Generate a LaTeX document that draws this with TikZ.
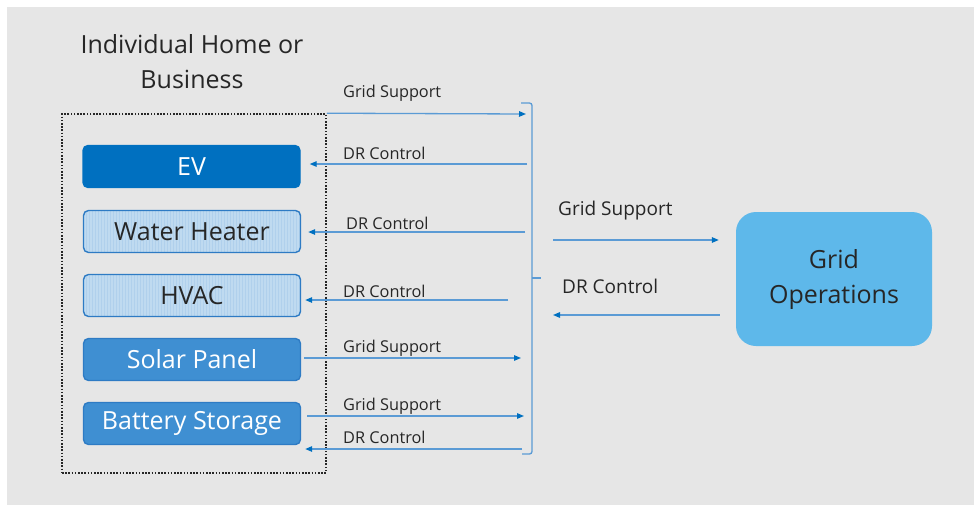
\documentclass[tikz,border=0pt]{standalone}
\usepackage{fontspec}
\setmainfont{Open Sans}
\usetikzlibrary{arrows.meta}
\definecolor{bgc}{HTML}{E6E6E6}
\definecolor{evc}{HTML}{0070C0}
\definecolor{lightc}{HTML}{BFDAF0}
\definecolor{stripec}{HTML}{B0D0EC}
\definecolor{midc}{HTML}{3F8FD2}
\definecolor{edgec}{HTML}{2E7BC4}
\definecolor{gridc}{HTML}{5EB8EA}
\definecolor{linec}{HTML}{5B9BD5}
\definecolor{tipc}{HTML}{0070C0}
\definecolor{txtc}{HTML}{262626}
\tikzset{
  devbox/.style={draw=edgec, line width=1.4pt, rounded corners=5pt, minimum width=217pt, minimum height=42pt, inner sep=0pt, font=\fontsize{25}{28}\selectfont},
  striped/.style={path picture={\foreach \i in {0,3,...,220}{\draw[stripec, line width=0.6pt] ([xshift=\i pt]path picture bounding box.south west) -- ([xshift=\i pt]path picture bounding box.north west);}}},
  arr/.style={draw=linec, line width=1.3pt, -{Triangle[length=7pt,width=5.5pt,color=tipc]}},
  lbl/.style={anchor=west, inner sep=0pt, text=txtc, font=\fontsize{16.3}{18}\selectfont},
  biglbl/.style={anchor=west, inner sep=0pt, text=txtc, font=\fontsize{19}{22}\selectfont},
  bracestyle/.style={draw=linec, line width=1.3pt, rounded corners=2.5pt}
}
\begin{document}
\begin{tikzpicture}[x=1pt,y=-1pt]
\useasboundingbox (0,0) rectangle (974,504);
\fill[bgc] (7,7) rectangle (990,520);

% title
\node[align=center, text=txtc, font=\fontsize{25}{35}\selectfont] (title) at (192,62) {Individual Home or\\Business};

% dotted home box
\node[draw=black!85, line width=1.6pt, dash pattern=on 1.6pt off 1.6pt, minimum width=264pt, minimum height=359pt, inner sep=0pt] (home) at (194,293.5) {};

% devices
\node[devbox, fill=evc, draw=evc, text=white] (ev) at (191.5,166.5) {EV};
\node[devbox, fill=lightc, striped, text=txtc] (wh) at (192,231.5) {Water Heater};
\node[devbox, fill=lightc, striped, text=txtc] (hvac) at (192,295.5) {HVAC};
\node[devbox, fill=midc, text=white] (solar) at (192,359.5) {Solar Panel};
\node[devbox, fill=midc, text=white] (bat) at (192,423.5) {Battery Storage};

% grid operations
\node[fill=gridc, rounded corners=20pt, minimum width=196pt, minimum height=134pt, align=center, text=txtc, font=\fontsize{25}{35}\selectfont] (go) at (834,279) {Grid\\Operations};

% brace
\coordinate (btop) at (521,103);
\coordinate (bbot) at (522,454);
\coordinate (bmid) at (532,278);
\coordinate (btip) at (541,278);
\draw[bracestyle] (btop) -- (532,103) -- (532,454) -- (bbot);
\draw[bracestyle, rounded corners=0pt] (bmid) -- (btip);

% connector free ends
\coordinate (c1) at (526,114);
\coordinate (c2) at (527,164);
\coordinate (c3) at (525,232);
\coordinate (c4) at (508,300);
\coordinate (c5) at (521,358);
\coordinate (c6) at (524,416);
\coordinate (c7) at (522,449);
\coordinate (c8) at (553,240);
\coordinate (c9) at (553,315);

\draw[arr] (home.north east) -- (c1);
\draw[arr, shorten >=9pt] (c2) -- (c2 -| ev.east);
\draw[arr, shorten >=7pt] (c3) -- (c3 -| wh.east);
\draw[arr, shorten >=4pt] (c4) -- (c4 -| hvac.east);
\draw[arr, shorten <=3pt] (c5 -| solar.east) -- (c5);
\draw[arr, shorten <=6pt] (c6 -| bat.east) -- (c6);
\draw[arr, shorten >=4pt] (c7) -- (c7 -| bat.east);
\draw[arr, shorten >=17pt] (c8) -- (c8 -| go.west);
\draw[arr, shorten <=16pt] (c9 -| go.west) -- (c9);

% labels
\node[lbl] (l1) at (343,93) {Grid Support};
\node[lbl] (l2) at (343,153) {DR Control};
\node[lbl] (l3) at (346,223) {DR Control};
\node[lbl] (l4) at (343,291) {DR Control};
\node[lbl] (l5) at (343,348) {Grid Support};
\node[lbl] (l6) at (343,406) {Grid Support};
\node[lbl] (l7) at (343,437) {DR Control};
\node[biglbl] (l8) at (558,211) {Grid Support};
\node[biglbl] (l9) at (562,286) {DR Control};
\end{tikzpicture}
\end{document}
